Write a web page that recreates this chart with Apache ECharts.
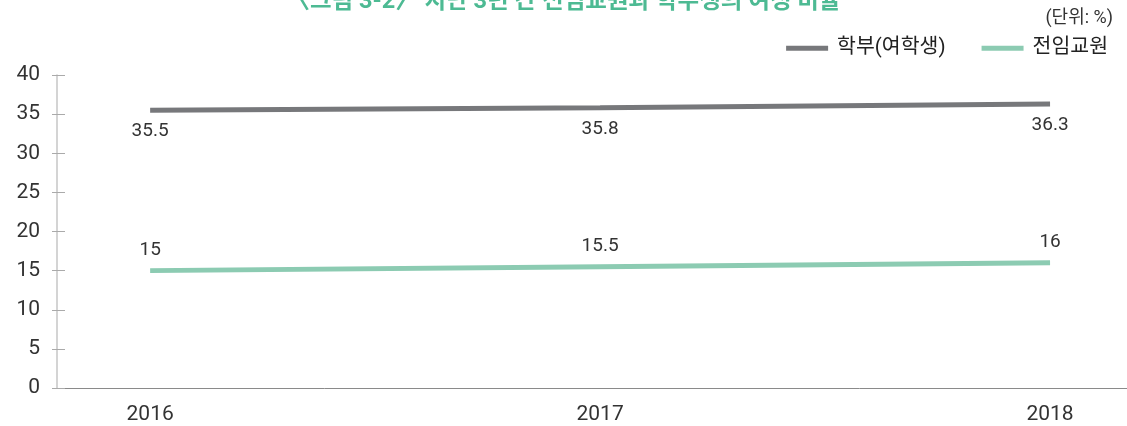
<!DOCTYPE html>
<html>
<head>
<meta charset="utf-8">
<script src="https://cdn.jsdelivr.net/npm/echarts@6/dist/echarts.min.js"></script>
<style>
  html, body { margin: 0; padding: 0; background: #fff; }
  #chart { width: 1127px; height: 426px; }
</style>
</head>
<body>
<div id="chart"></div>
<script>
// Female share (%) over the last three years
const years = [2016, 2017, 2018];
const undergrad = [35.5, 35.8, 36.3];   // 학부(여학생)
const faculty = [15, 15.5, 16];          // 전임교원
const yTicks = [0, 5, 10, 15, 20, 25, 30, 35, 40];

const FONT = "Roboto, 'Noto Sans CJK KR', sans-serif";

const toPairs = (vals) => years.map((y, i) => [y, vals[i]]);

const chart = echarts.init(document.getElementById('chart'), null, { renderer: 'canvas' });

chart.setOption({
  animation: false,
  backgroundColor: '#fff',
  title: [
    {
      text: '〈그림 3-2〉 지난 3년 간 전임교원과 학부생의 여성 비율',
      left: 'center',
      top: -15,
      textStyle: { color: '#4dba93', fontSize: 23.5, fontWeight: 'bold', fontFamily: FONT }
    },
    {
      text: '(단위: %)',
      right: 9,
      top: 5,
      textStyle: { color: '#333', fontSize: 18, fontWeight: 'normal', fontFamily: FONT }
    }
  ],
  legend: {
    right: 14,
    top: 33,
    icon: 'rect',
    itemWidth: 42,
    itemHeight: 5,
    itemGap: 36,
    textStyle: { color: '#222', fontSize: 20.5, fontFamily: FONT, padding: [0, 0, 0, 4] },
    data: ['학부(여학생)', '전임교원']
  },
  grid: { left: 57, right: 0, top: 75, bottom: 38 },
  xAxis: {
    type: 'value',
    min: 2015.793,
    max: 2018.171,
    axisLine: { show: true, lineStyle: { color: '#8a8a8a', width: 1 } },
    axisTick: { show: false },
    splitLine: { show: false },
    axisLabel: {
      customValues: years,
      formatter: (v) => String(v),
      color: '#333',
      fontSize: 21,
      fontFamily: FONT,
      margin: 16
    }
  },
  yAxis: [
    {
      type: 'value',
      min: yTicks[0],
      max: yTicks[yTicks.length - 1],
      interval: 5,
      axisLine: { show: true, lineStyle: { color: '#c6c6c6', width: 1.5 } },
      axisTick: { show: true, length: 5, lineStyle: { color: '#aaa' } },
      splitLine: { show: false },
      axisLabel: { color: '#333', fontSize: 21, fontFamily: FONT, margin: 17 }
    },
    {
      type: 'value',
      position: 'left',
      min: yTicks[0],
      max: yTicks[yTicks.length - 1],
      interval: 5,
      axisLine: { show: false },
      axisTick: { show: true, inside: true, length: 8, lineStyle: { color: '#aaa' } },
      splitLine: { show: false },
      axisLabel: { show: false }
    }
  ],
  series: [
    {
      name: '학부(여학생)',
      type: 'line',
      data: toPairs(undergrad),
      showSymbol: true,
      symbol: 'circle',
      symbolSize: 0,
      lineStyle: { color: '#77787b', width: 5, cap: 'butt' },
      itemStyle: { color: '#77787b' },
      label: {
        show: true,
        position: 'bottom',
        distance: 12,
        color: '#333',
        fontSize: 19,
        fontFamily: FONT
      }
    },
    {
      name: '전임교원',
      type: 'line',
      data: toPairs(faculty),
      showSymbol: true,
      symbol: 'circle',
      symbolSize: 0,
      lineStyle: { color: '#8ccbb2', width: 5, cap: 'butt' },
      itemStyle: { color: '#8ccbb2' },
      label: {
        show: true,
        position: 'top',
        distance: 11,
        color: '#333',
        fontSize: 19,
        fontFamily: FONT
      }
    }
  ]
});
</script>
</body>
</html>
